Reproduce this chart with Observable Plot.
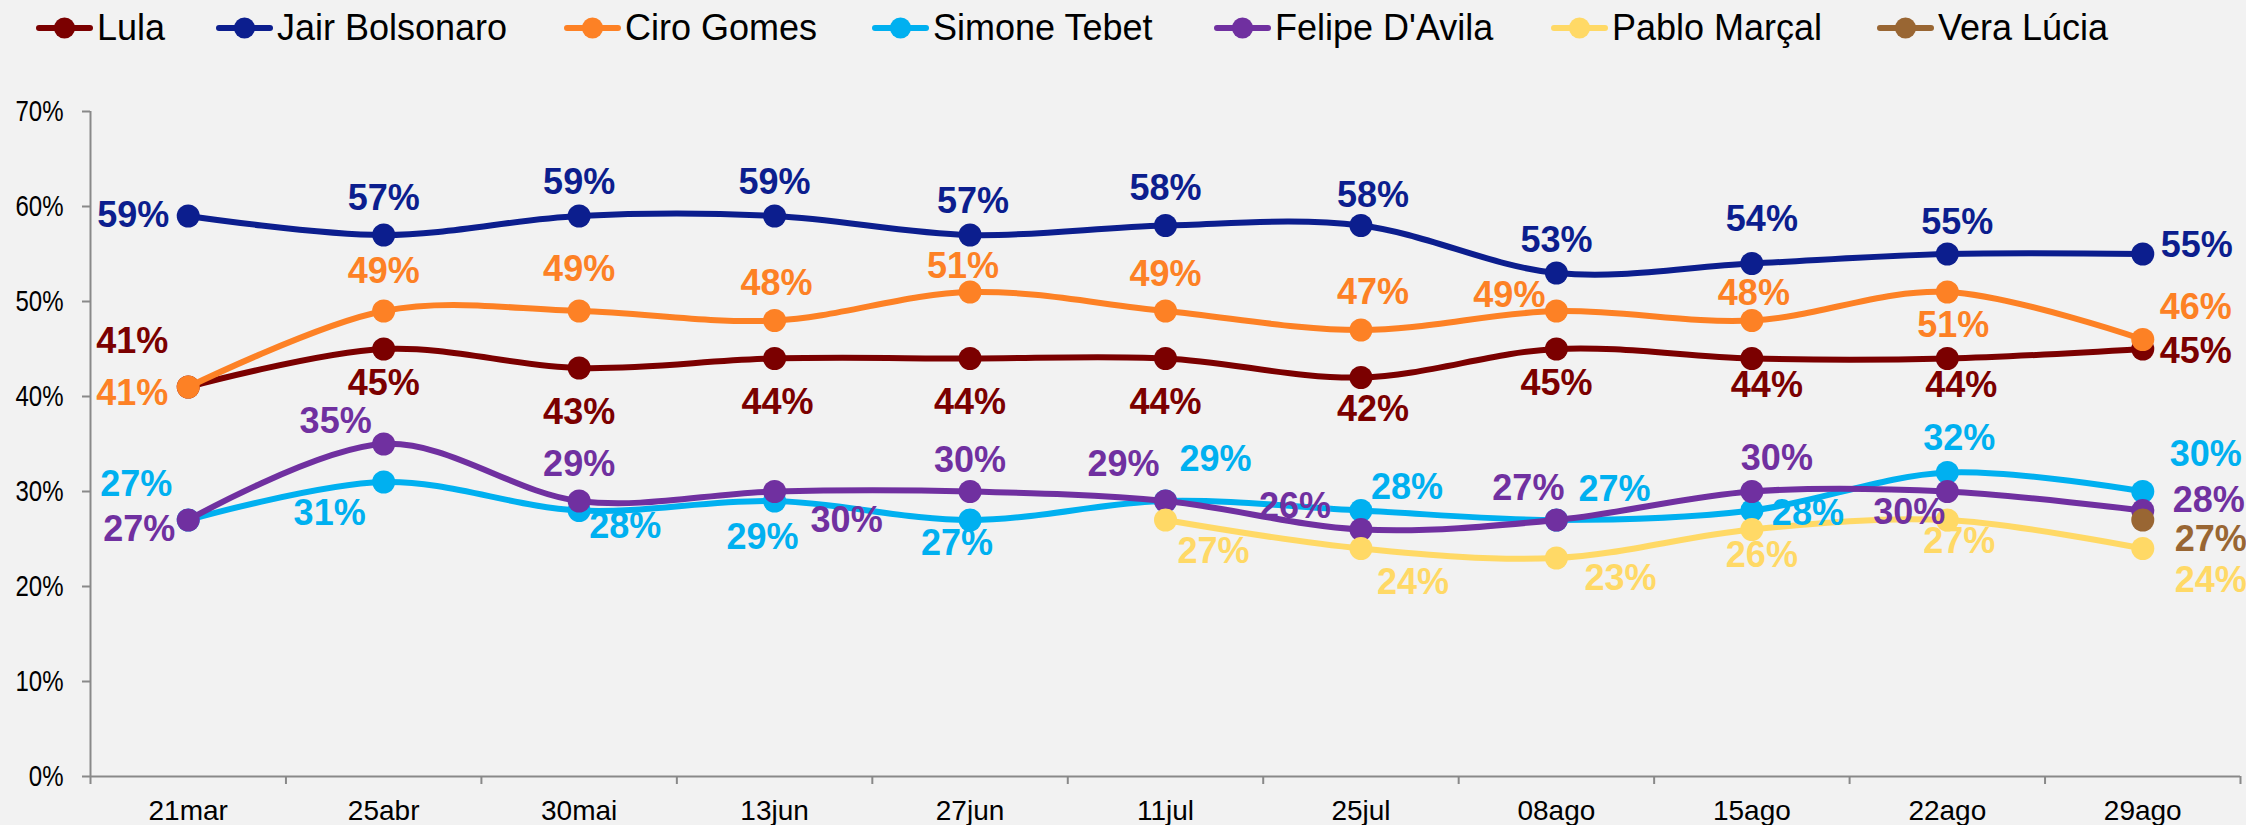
<!DOCTYPE html>
<html><head><meta charset="utf-8">
<script src="https://cdn.jsdelivr.net/npm/d3@7"></script>
<script src="https://cdn.jsdelivr.net/npm/@observablehq/plot@0.6"></script>
<style>
html,body{margin:0;padding:0;background:#f2f2f2;}
#legend{position:relative;height:56px;width:2246px;font-family:"Liberation Sans",Arial,sans-serif;font-size:36px;color:#000;}
.item{position:absolute;top:0;height:56px;display:flex;align-items:center;white-space:nowrap;}
.item svg{margin-right:4px;}
#chart svg{display:block;}
</style>
</head><body>
<div id="legend"></div>
<div id="chart"></div>
<script>
// ---- data ----
const dates = ["21mar","25abr","30mai","13jun","27jun","11jul","25jul","08ago","15ago","22ago","29ago"];
const names = ["Lula","Jair Bolsonaro","Ciro Gomes","Simone Tebet","Felipe D'Avila","Pablo Marçal","Vera Lúcia"];
const lula       = [41,45,43,44,44,44,42,45,44,44,45];
const bolsonaro  = [59,57,59,59,57,58,58,53,54,55,55];
const ciro       = [41,49,49,48,51,49,47,49,48,51,46];
const simone     = [27,31,28,29,27,29,28,27,28,32,30];
const felipe     = [27,35,29,30,30,29,26,27,30,30,28];
const pablo      = [null,null,null,null,null,27,24,23,26,27,24];
const vera       = [null,null,null,null,null,null,null,null,null,null,27];
const yTicks = [0,10,20,30,40,50,60,70];

// ---- styling / layout ----
const colors = ["#7b0000","#0c1e8e","#fd8125","#00b0f0","#7030a0","#ffd966","#996633"];
const legendLeft = [36,216,564,872,1214,1551,1877];
// label placement per point: [anchor, dx, dy]
const E="end", M="middle", S="start";
const labelLayout = [
  [[E,-20,-46],[M,0,34],[M,0,44],[M,3,44],[M,0,44],[M,0,44],[M,12,32],[M,0,34],[M,15,27],[M,14,27],[S,17,2]],
  [[E,-19,-1],[M,0,-37],[M,0,-34],[M,0,-34],[M,3,-34],[M,0,-37],[M,12,-30],[M,0,-33],[M,10,-44],[M,10,-32],[S,18,-9]],
  [[E,-20,6],[M,0,-40],[M,0,-42],[M,2,-37],[M,-7,-26],[M,0,-37],[M,12,-38],[E,-11,-16],[M,2,-27],[M,6,33],[S,17,-32]],
  [[E,-16,-36],[E,-18,31],[S,10,16],[M,-12,36],[M,-13,23],[S,14,-42],[S,10,-23],[S,22,-31],[S,20,3],[M,12,-34],[S,27,-37]],
  [[E,-13,9],[E,-12,-23],[M,0,-37],[S,36,29],[M,0,-31],[E,-6,-37],[E,-30,-23],[E,8,-32],[M,25,-33],[E,-2,21],[S,30,-10]],
  [null,null,null,null,null,[S,12,31],[S,16,34],[S,28,20],[M,10,26],[M,12,21],[S,32,32]],
  [null,null,null,null,null,null,null,null,null,null,[S,32,19]]
];
const seriesValues = [lula,bolsonaro,ciro,simone,felipe,pablo,vera];

// ---- legend ----
const legend = document.getElementById("legend");
names.forEach((n,k)=>{
  const it = document.createElement("div");
  it.className="item";
  it.style.left = legendLeft[k]+"px";
  it.innerHTML = `<svg width="57" height="24"><line x1="3" y1="12" x2="54" y2="12" stroke="${colors[k]}" stroke-width="6" stroke-linecap="round"/><circle cx="28.5" cy="12" r="10.5" fill="${colors[k]}"/></svg><span>${n}</span>`;
  legend.appendChild(it);
});

// ---- chart ----
const idx = dates.map((d,i)=>i);
const bounds = d3.range(dates.length+1).map(i=>i-0.5);
const marks = [];
const axisColor = "#898989";
marks.push(Plot.ruleX([-0.5],{stroke:axisColor,strokeWidth:2}));
marks.push(Plot.ruleY([0],{stroke:axisColor,strokeWidth:2}));
marks.push(Plot.axisY({ticks:yTicks,tickFormat:d=>d+"%",tickSize:8,tickPadding:19,stroke:axisColor,strokeWidth:2,fill:"#000",fontSize:30,fontFamily:"'Liberation Sans',Arial,sans-serif",label:null,className:"yax"}));
marks.push(Plot.axisX({ticks:bounds,tickFormat:()=>"",tickSize:8,stroke:axisColor,strokeWidth:2,label:null}));
marks.push(Plot.axisX({ticks:idx,tickFormat:i=>dates[i],tickSize:0,tickPadding:24,fill:"#000",fontSize:28,fontFamily:"'Liberation Sans',Arial,sans-serif",label:null}));

const allRows = seriesValues.map((vals,k)=>vals.map((v,i)=>({i,v,k,date:dates[i],name:names[k]})).filter(r=>r.v!=null));
allRows.forEach((rows,k)=>{
  marks.push(Plot.line(rows,{x:"i",y:"v",stroke:colors[k],strokeWidth:6,curve:"cardinal",tension:0}));
  marks.push(Plot.dot(rows,{x:"i",y:"v",fill:colors[k],r:11.5}));
});
allRows.forEach((rows,k)=>{
  rows.forEach(r=>{
    const L = labelLayout[k][r.i];
    marks.push(Plot.text([r],{x:"i",y:"v",text:d=>d.v+"%",fill:colors[k],fontSize:36,fontWeight:"bold",
      fontFamily:"'Liberation Sans',Arial,sans-serif",textAnchor:L[0],dx:L[1],dy:L[2]}));
  });
});

const chart = Plot.plot({
  width:2246,height:769,
  marginLeft:90,marginRight:6,marginTop:55,marginBottom:49,
  style:{background:"transparent",overflow:"visible"},
  x:{domain:[-0.5,10.5],axis:null},
  y:{domain:[0,70],axis:null},
  marks
});
document.getElementById("chart").appendChild(chart);
// narrower y tick labels, as in the original's condensed face
d3.select(chart).selectAll("g.yax text, g[aria-label='y-axis tick label'] text").each(function(){
  const w = this.getComputedTextLength();
  this.setAttribute("textLength", (w*0.8).toFixed(1));
  this.setAttribute("lengthAdjust","spacingAndGlyphs");
});
</script>
</body></html>
